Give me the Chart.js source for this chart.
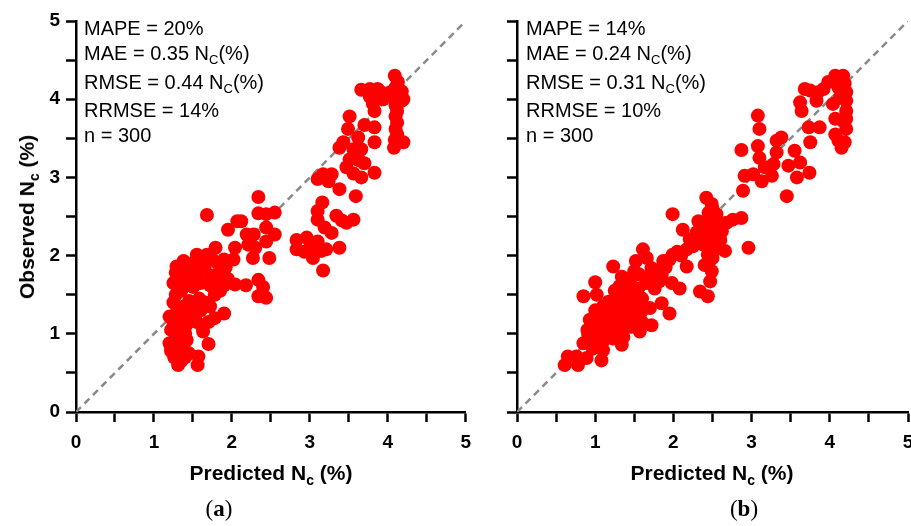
<!DOCTYPE html>
<html>
<head>
<meta charset="utf-8">
<script src="https://cdn.jsdelivr.net/npm/chart.js@4.4.1/dist/chart.umd.min.js"></script>
<style>
body { margin: 0; background: #fff; }
#wrap { position: relative; width: 911px; height: 526px; overflow: hidden; font-family: "Liberation Sans", Arial, sans-serif; color: #000; }
.panel { position: absolute; top: 0; height: 526px; }
.stats { position: absolute; font-size: 20px; line-height: 20px; white-space: nowrap; }
.stats div { position: absolute; left: 0; }
.sub { font-size: 13px; position: relative; top: 4px; }
.xtitle { position: absolute; top: 461px; font-size: 21px; font-weight: bold; white-space: nowrap; transform: translateX(-50%); }
.ytitle { position: absolute; font-size: 21px; font-weight: bold; white-space: nowrap; transform: translate(-50%, -50%) rotate(-90deg); }
.subb { font-size: 14px; position: relative; top: 5px; }
.caption { position: absolute; top: 496px; font-family: "Liberation Serif", serif; font-size: 23px; transform: translateX(-50%); }
</style>
</head>
<body>
<div id="wrap">
  <div class="panel" style="left:0;width:480px"><canvas id="chartA"></canvas></div>
  <div class="panel" style="left:440px;width:490px"><canvas id="chartB"></canvas></div>

  <div class="stats" style="left:84px;top:0">
    <div style="top:18px">MAPE = 20%</div>
    <div style="top:43px">MAE = 0.35 N<span class="sub">C</span>(%)</div>
    <div style="top:72px">RMSE = 0.44 N<span class="sub">C</span>(%)</div>
    <div style="top:100px">RRMSE = 14%</div>
    <div style="top:125px">n = 300</div>
  </div>
  <div class="stats" style="left:526px;top:0">
    <div style="top:18px">MAPE = 14%</div>
    <div style="top:43px">MAE = 0.24 N<span class="sub">C</span>(%)</div>
    <div style="top:72px">RMSE = 0.31 N<span class="sub">C</span>(%)</div>
    <div style="top:100px">RRMSE = 10%</div>
    <div style="top:125px">n = 300</div>
  </div>

  <div class="ytitle" style="left:27px;top:217px">Observed N<span class="subb">c</span> (%)</div>
  <div class="xtitle" style="left:271px">Predicted N<span class="subb">c</span> (%)</div>
  <div class="xtitle" style="left:712px">Predicted N<span class="subb">c</span> (%)</div>
  <div class="caption" style="left:219px">(<b>a</b>)</div>
  <div class="caption" style="left:744px">(<b>b</b>)</div>
</div>

<script>
const axisLabels = [0, 1, 2, 3, 4, 5];

// (a) predicted / observed
const predA = [1.31, 1.56, 1.57, 1.70, 1.20, 1.20, 1.22, 1.29, 1.38, 1.45, 1.55, 1.68, 1.68, 1.79, 1.95, 2.04, 2.02, 2.04, 2.18, 1.90,
    1.78, 1.63, 2.07, 2.12, 2.19, 2.28, 2.34, 2.34, 2.44, 2.55, 2.44, 2.55, 2.44, 2.48, 2.27, 2.30, 2.21, 2.34, 2.40, 2.34,
    2.44, 2.83, 2.83, 2.96, 3.00, 3.04, 3.10, 3.15, 3.17, 3.21, 3.38, 2.93, 3.10, 3.16, 3.10, 3.19, 3.28, 3.34, 3.41, 3.47,
    3.56, 3.38, 3.10, 3.17, 3.24, 3.28, 3.59, 3.47, 3.56, 3.66, 3.70, 3.83, 3.38, 3.43, 3.56, 3.62, 3.49, 3.51, 3.70, 3.66,
    3.83, 3.83, 3.51, 3.63, 3.66, 3.77, 3.87, 3.77, 3.81, 3.83, 3.94, 3.90, 4.09, 4.13, 4.10, 4.18, 4.15, 4.09, 4.18, 4.10,
    4.12, 4.10, 4.12, 4.10, 4.12, 4.09, 4.08, 4.20, 4.20, 4.03,
    1.22, 1.25, 1.30, 1.35, 1.40, 1.38, 1.28, 1.42, 1.32, 1.45, 1.26, 1.40,
    1.22, 1.25, 1.30, 1.35, 1.42, 1.48, 1.30, 1.25, 1.38, 1.45, 1.52, 1.55, 1.60, 1.58, 1.28, 1.35, 1.62, 1.70, 1.72, 1.66,
    1.25, 1.30, 1.38, 1.45, 1.50, 1.28, 1.35, 1.42, 1.50, 1.55, 1.60, 1.65, 1.72, 1.72, 1.75, 1.80, 1.85, 1.90, 1.85, 1.95,
    1.78, 1.62, 1.70, 1.82, 1.90, 1.92];
const obsA = [0.60, 0.60, 0.71, 0.87, 1.22, 0.88, 0.78, 1.86, 1.93, 1.85, 2.01, 2.52, 2.01, 2.10, 2.33, 2.10, 1.95, 1.63, 1.62, 1.26,
    1.20, 1.03, 2.44, 2.44, 2.27, 2.27, 2.75, 2.54, 2.53, 2.55, 2.36, 2.27, 2.18, 1.97, 1.97, 2.10, 2.14, 1.69, 1.60, 1.48,
    1.46, 2.08, 2.20, 2.23, 2.10, 1.97, 2.18, 2.06, 1.81, 2.08, 2.10, 2.05, 2.57, 2.68, 2.46, 2.36, 2.29, 2.51, 2.45, 2.42,
    2.46, 2.85, 2.98, 3.04, 2.95, 3.04, 2.76, 3.13, 3.05, 3.00, 3.18, 3.06, 3.38, 3.45, 3.36, 3.51, 3.62, 3.78, 3.67, 3.36,
    3.64, 3.45, 3.23, 3.22, 4.12, 4.13, 4.13, 4.03, 3.94, 3.85, 4.00, 4.10, 4.30, 4.22, 4.15, 4.10, 4.05, 4.00, 3.98, 3.92,
    3.85, 3.78, 3.70, 3.62, 3.55, 3.48, 3.38, 3.45, 4.00, 4.09,
    0.82, 0.90, 0.75, 0.65, 0.70, 0.82, 0.98, 0.92, 0.88, 0.75, 0.70, 1.00,
    1.05, 1.15, 1.08, 1.20, 1.12, 1.25, 1.30, 1.40, 1.35, 1.42, 1.35, 1.15, 1.30, 1.45, 1.50, 1.55, 1.10, 1.15, 1.35, 1.40,
    1.65, 1.72, 1.62, 1.70, 1.60, 1.78, 1.85, 1.80, 1.90, 1.75, 1.65, 1.85, 1.62, 1.75, 1.95, 1.68, 1.80, 1.62, 1.55, 1.70,
    1.50, 1.95, 2.00, 1.90, 1.95, 1.85];

// (b) predicted / observed
const predB = [0.61, 0.65, 0.76, 0.78, 0.89, 0.85, 0.91, 0.93, 0.85, 1.00, 1.02, 1.08, 1.23, 1.34, 1.31, 1.34, 1.23, 1.17, 1.06, 1.02,
    1.12, 0.97, 1.10, 1.40, 1.48, 1.46, 1.36, 1.57, 1.59, 1.72, 1.70, 1.55, 1.61, 1.52, 1.66, 1.72, 1.56, 1.40, 1.85, 1.95,
    1.87, 1.99, 1.99, 2.08, 1.98, 2.12, 2.17, 1.82, 1.76, 1.25, 1.19,
    2.42, 2.49, 2.32, 2.42, 2.55, 2.68, 2.76, 2.87, 2.21, 2.30, 2.38, 2.51, 2.62, 2.44, 2.55, 2.66, 2.49, 2.47, 2.34, 2.44,
    2.96, 2.17, 2.25, 2.50, 2.40,
    2.89, 2.91, 3.02, 3.13, 3.08, 3.10, 3.08, 3.10, 3.17, 3.26, 3.32, 3.32, 3.38, 3.28, 3.45, 3.47, 3.55, 3.58, 3.62, 3.74,
    2.87,
    3.62, 3.64, 3.68, 3.75, 3.85, 3.83, 3.92, 3.98, 4.07, 4.17, 3.73, 3.75, 3.87, 4.04, 4.07, 4.07, 4.11, 4.15, 4.19, 4.21,
    4.21, 4.21, 4.21, 4.21, 4.19, 4.11, 4.13, 4.17,
    1.00, 1.10, 1.15, 1.20, 1.28, 1.30, 1.35, 1.40, 1.45, 1.50, 1.55, 1.60, 1.65, 1.70, 1.75, 1.80, 1.85, 1.90, 1.95, 2.05,
    2.10, 1.45, 1.50, 1.40, 1.25, 1.15, 1.05, 0.95, 1.10, 1.20, 1.30, 1.35, 1.45, 1.50, 1.60, 0.90, 1.00,
    2.30, 2.40, 2.45, 2.50, 2.35, 2.55, 2.45, 2.50, 2.60, 2.45, 2.50, 2.60];
const obsB = [0.60, 0.71, 0.71, 0.60, 0.69, 0.88, 0.99, 1.18, 1.48, 1.66, 1.50, 0.66, 1.86, 1.73, 1.61, 0.86, 0.94, 1.41, 1.24, 1.11,
    1.07, 0.81, 0.79, 1.20, 1.41, 1.09, 0.96, 1.03, 1.16, 1.11, 1.33, 1.58, 2.08, 1.93, 1.97, 1.84, 1.76, 1.50, 1.39, 1.26,
    1.93, 2.01, 2.53, 1.58, 1.65, 2.33, 1.86, 1.67, 1.58, 1.20, 0.99,
    2.74, 2.66, 2.44, 2.44, 2.53, 2.42, 2.46, 2.48, 2.21, 2.18, 2.14, 2.27, 2.31, 2.01, 2.10, 2.06, 1.80, 1.67, 1.54, 1.48,
    2.10, 2.08, 2.12, 1.97, 1.88,
    2.83, 3.02, 3.04, 2.95, 3.40, 3.62, 3.79, 3.25, 3.13, 3.02, 3.32, 3.47, 3.51, 3.17, 2.76, 3.15, 3.34, 3.00, 3.19, 3.06,
    3.35,
    3.96, 3.85, 4.13, 4.11, 4.09, 3.98, 4.13, 4.22, 4.30, 4.30, 3.64, 3.45, 3.64, 3.94, 3.75, 3.55, 3.47, 3.38, 3.45, 3.62,
    3.75, 3.85, 3.98, 4.09, 4.20, 4.15, 4.02, 3.72,
    1.30, 1.35, 1.20, 1.30, 1.40, 1.25, 1.45, 1.35, 1.55, 1.50, 1.35, 1.45, 1.65, 1.75, 1.70, 1.80, 1.75, 1.85, 1.95, 2.05,
    2.00, 1.65, 1.80, 1.70, 1.55, 1.30, 1.05, 0.95, 0.90, 1.10, 1.00, 1.10, 1.25, 1.20, 1.30, 1.05, 0.90,
    2.30, 2.30, 2.20, 2.40, 2.20, 2.35, 2.55, 2.60, 2.40, 1.90, 2.05, 2.20];

const onePoint = [0, 5];

function makeChart(id, pred, obs, yWidth, padRight, showYLabels) {
    const points = pred.map((x, i) => ({ x: x, y: obs[i] }));
    const tickFont = { family: "'Liberation Sans', Arial, sans-serif", weight: 'bold', size: 19 };
    const grid = { drawOnChartArea: false, drawTicks: true, tickLength: 10, tickColor: '#000', tickWidth: 2.5 };
    return new Chart(document.getElementById(id), {
        type: 'scatter',
        data: {
            datasets: [{
                data: points,
                backgroundColor: '#ff0000',
                borderWidth: 0,
                pointRadius: 7,
                pointHoverRadius: 7
            }, {
                type: 'line',
                data: onePoint.map(v => ({ x: v, y: v })),
                borderColor: '#8a8a8a',
                borderWidth: 2.5,
                borderDash: [7, 5],
                pointRadius: 0,
                fill: false
            }]
        },
        options: {
            responsive: true,
            maintainAspectRatio: false,
            animation: false,
            layout: { padding: { top: 21, right: padRight, left: 0, bottom: 0 } },
            plugins: { legend: { display: false }, tooltip: { enabled: false } },
            scales: {
                x: {
                    type: 'linear', min: 0, max: 5,
                    ticks: {
                        stepSize: 0.5, autoSkip: false, maxRotation: 0, padding: 9,
                        color: '#000', font: tickFont,
                        callback: v => axisLabels.includes(v) ? String(v) : ''
                    },
                    grid: grid,
                    border: { color: '#000', width: 2.5 },
                    afterFit: s => { s.height = 114; }
                },
                y: {
                    type: 'linear', min: 0, max: 5,
                    ticks: {
                        display: showYLabels,
                        stepSize: 0.5, autoSkip: false, padding: 6,
                        color: '#000', font: tickFont,
                        callback: v => axisLabels.includes(v) ? String(v) : ''
                    },
                    grid: grid,
                    border: { color: '#000', width: 2.5 },
                    afterFit: s => { s.width = yWidth; }
                }
            }
        }
    });
}

makeChart('chartA', predA, obsA, 76, 13, true);
makeChart('chartB', predB, obsB, 77, 22, false);
</script>
</body>
</html>
